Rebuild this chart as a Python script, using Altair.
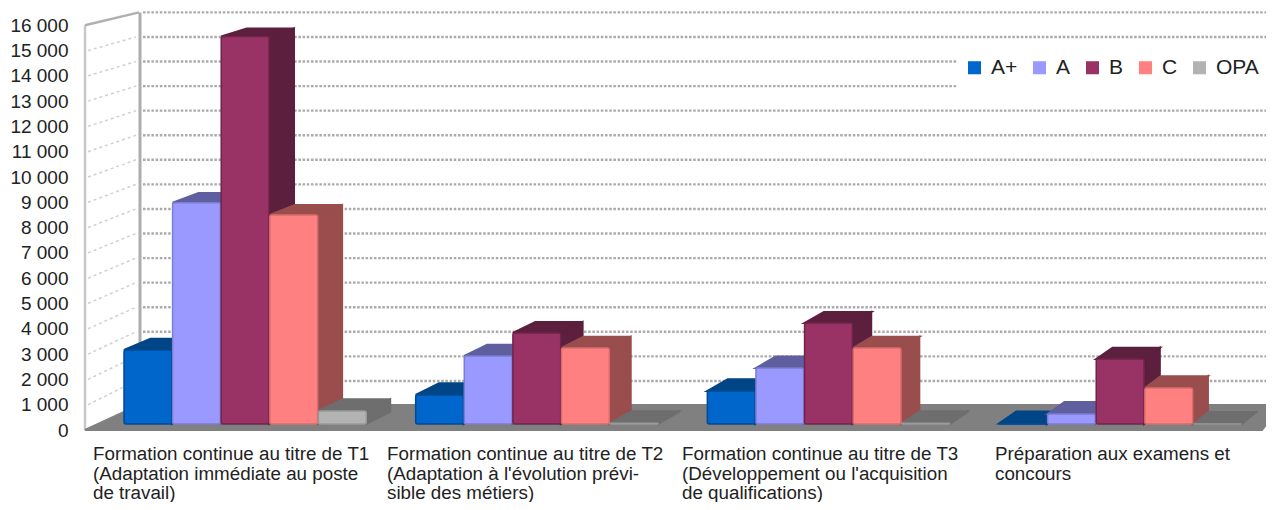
import altair as alt
import pandas as pd

# ---------- values ----------
CATEGORIES = [
    ["Formation continue au titre de T1", "(Adaptation immédiate au poste", "de travail)"],
    ["Formation continue au titre de T2", "(Adaptation à l'évolution prévi-", "sible des métiers)"],
    ["Formation continue au titre de T3", "(Développement ou l'acquisition", "de qualifications)"],
    ["Préparation aux examens et", "concours"],
]
SERIES = ["A+", "A", "B", "C", "OPA"]
V_APLUS = [2960, 1160, 1320, 20]
V_A = [8850, 2720, 2240, 400]
V_B = [15500, 3640, 4040, 2600]
V_C = [8360, 3040, 3040, 1440]
V_OPA = [520, 30, 30, 0]
VALUES = [V_APLUS, V_A, V_B, V_C, V_OPA]
TICKS = list(range(0, 16001, 1000))

FRONT = ["#0066cc", "#9999ff", "#993366", "#ff8080", "#b3b3b3"]
EDGE = ["#004a94", "#7c7cd0", "#702548", "#d96c6c", "#9a9a9a"]
SHADE = ["#004586", "#5f5fa0", "#5c1f3d", "#994d4d", "#6e6e6e"]
GRID = "#aaaaaa"

# ---------- scales: page pixels <-> chart units ----------
W, H = 1258, 494
PAGE = 8
def gx(px):      # page x -> group units
    return (px - 124) / 291.67
def yv(py):      # page y -> value on the plane of the bars' front faces
    return (424 - py) / 0.025
XDOM = [gx(PAGE), gx(PAGE + W)]
YDOM = [yv(PAGE + H), yv(PAGE)]
xs = alt.Scale(domain=XDOM, nice=False, zero=False)
ys = alt.Scale(domain=YDOM, nice=False, zero=False)
X = lambda f="x": alt.X(f"{f}:Q", scale=xs, axis=None)
Y = lambda f="y": alt.Y(f"{f}:Q", scale=ys, axis=None)

BAR = 1 / 6.1           # bar width, group units
DEPTH = 480             # depth of a bar in value units
def back(v):
    return DEPTH + 0.99 * v
def dxp(g):             # perspective: depth offset shrinks rightwards
    return (26.5 - 0.0105 * 291.67 * g) / 291.67

fronts, tops, sides = [], [], []
for gi in range(len(CATEGORIES)):
    for si, s in enumerate(SERIES):
        v = VALUES[si][gi]
        x0 = gi + si / 6.0
        x1 = x0 + BAR
        dl, dr = dxp(x0), dxp(x1)
        fronts.append(dict(x=x0, x2=x1, y=0, y2=v, series=s, edge=EDGE[si]))
        tid = f"{gi}-{si}"
        for o, (px, py) in enumerate([(x0, v), (x1, v), (x1 + dr, back(v)), (x0 + dl, back(v))]):
            tops.append(dict(id=tid, o=o, x=px, y=py, c=SHADE[si]))
        for o, (px, py) in enumerate([(x1, 0), (x1, v), (x1 + dr, back(v)), (x1 + dr, DEPTH)]):
            sides.append(dict(id=tid, o=o, x=px, y=py, c=SHADE[si]))

def poly(rows, **kw):
    return alt.Chart(pd.DataFrame(rows)).mark_line(interpolate="linear-closed", clip=True, **kw).encode(
        x=X(), y=Y(), order="o:Q", detail="id:N",
        fill=alt.Fill("c:N", scale=None), stroke=alt.Stroke("c:N", scale=None))

# ---------- chrome ----------
bp = lambda v: yv(405.5 - 0.02457 * v)     # back wall
fp = lambda v: yv(430 - 0.0253 * v)        # front edge of side wall

back_grid = pd.DataFrame([dict(x=gx(143), x2=gx(PAGE + W), y=bp(t)) for t in TICKS if t > 0])
grid = alt.Chart(back_grid).mark_rule(color=GRID, strokeWidth=2.4, strokeDash=[2.5, 1.7]).encode(x=X(), x2="x2:Q", y=Y())

side_rows = []
for t in TICKS[1:-1]:
    side_rows += [dict(id=t, o=0, x=gx(88), y=fp(t)), dict(id=t, o=1, x=gx(136), y=bp(t))]
side_grid = alt.Chart(pd.DataFrame(side_rows)).mark_line(color="#d0d0d0", strokeWidth=1.5, strokeDash=[3, 3]).encode(
    x=X(), y=Y(), order="o:Q", detail="id:N")

wall = alt.Chart(pd.DataFrame([
    dict(id="a", o=0, x=gx(85), y=fp(0)), dict(id="a", o=1, x=gx(85), y=fp(16000)),
])).mark_line(color="#c8c8c8", strokeWidth=2.5).encode(x=X(), y=Y(), order="o:Q", detail="id:N")
wall_top = alt.Chart(pd.DataFrame([
    dict(id="b", o=0, x=gx(85), y=fp(16000)), dict(id="b", o=1, x=gx(139), y=bp(16000)),
])).mark_line(color="#b0b0b0", strokeWidth=2.5).encode(x=X(), y=Y(), order="o:Q", detail="id:N")
post = alt.Chart(pd.DataFrame([
    dict(id="c", o=0, x=gx(140), y=bp(0)), dict(id="c", o=1, x=gx(140), y=bp(16000)),
])).mark_line(color="#adadad", strokeWidth=3).encode(x=X(), y=Y(), order="o:Q", detail="id:N")

legend_bg = alt.Chart(pd.DataFrame([dict(x=gx(957), x2=gx(PAGE + W), y=yv(95), y2=yv(42))])).mark_rect(color="white").encode(
    x=X(), x2="x2:Q", y=Y(), y2="y2:Q")

floor_rows = [
    dict(id="f", o=0, x=gx(85), y=yv(430), c="#808080"),
    dict(id="f", o=1, x=gx(1262), y=yv(430), c="#808080"),
    dict(id="f", o=2, x=gx(1282), y=yv(405), c="#808080"),
    dict(id="f", o=3, x=gx(139), y=yv(405), c="#808080"),
]
floor = poly(floor_rows)

front_bars = alt.Chart(pd.DataFrame(fronts)).mark_bar(cornerRadius=2, strokeWidth=1.5).encode(
    x=X(), x2="x2:Q", y=Y(), y2="y2:Q",
    color=alt.Color("series:N", sort=SERIES, scale=alt.Scale(domain=SERIES, range=FRONT),
                    legend=alt.Legend(orient="none", legendX=964 - PAGE, legendY=57 - PAGE, direction="horizontal",
                                      columns=5, title=None, symbolType="square", symbolSize=170, symbolStrokeWidth=0,
                                      labelFontSize=21, labelFont="Liberation Sans", labelColor="#222222",
                                      columnPadding=11, labelOffset=6, zindex=1)),
    stroke=alt.Stroke("edge:N", scale=None),
)

LABEL_PX = [93, 387, 682, 995]
LINE_PY = [454, 474, 493]
label_rows = []
for gi, lines in enumerate(CATEGORIES):
    for li, t in enumerate(lines):
        label_rows.append(dict(x=gx(LABEL_PX[gi]), y=yv(LINE_PY[li]), t=t))
labels = alt.Chart(pd.DataFrame(label_rows)).mark_text(
    align="left", baseline="middle", font="Liberation Sans", fontSize=18.8, color="#222222"
).encode(x=X(), y=Y(), text="t:N")

# real value axis (on the wall's front edge)
ax_dom = [(430 - (PAGE + H)) / 0.0253, (430 - PAGE) / 0.0253]
axis_layer = alt.Chart(pd.DataFrame({"v": TICKS})).mark_point(opacity=0).encode(
    y=alt.Y("v:Q", scale=alt.Scale(domain=ax_dom, nice=False, zero=False),
            axis=alt.Axis(values=TICKS, title=None, orient="left", offset=-(68 - PAGE), ticks=False, domain=False, grid=False,
                          labelFontSize=19, labelFont="Liberation Sans", labelColor="#222222", labelPadding=0,
                          labelExpr="replace(format(datum.value, ','), ',', ' ')")))

chart = alt.layer(
    grid, legend_bg, side_grid, wall, wall_top, post, floor,
    poly(sides), poly(tops), front_bars, labels, axis_layer
).resolve_scale(y="independent", color="independent").properties(
    width=W, height=H, padding=0, autosize=alt.AutoSizeParams(type="none"), background="white"
).configure_view(strokeWidth=0)

chart.save("out.html", embed_options={"renderer": "svg", "actions": False})
